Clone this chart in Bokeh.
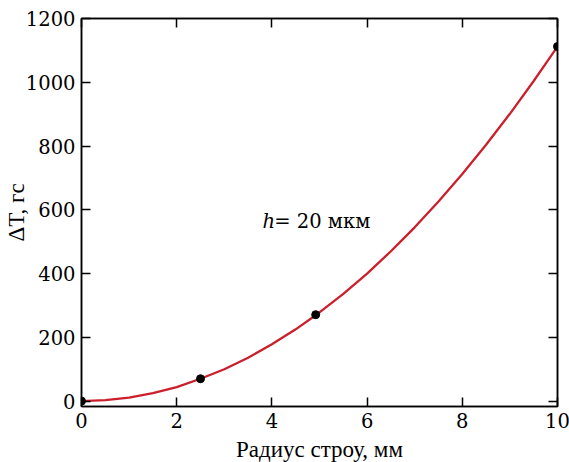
import math
from bokeh.plotting import figure
from bokeh.models import Range1d, LinearAxis, Label, CustomJSTickFormatter, FixedTicker
from bokeh.embed import file_html
from bokeh.resources import INLINE

# Curve (radius, mm -> delta T)
curve_x = [0, 0.5, 1, 1.5, 2, 2.5, 3, 3.5, 4, 4.5, 5, 5.5, 6, 6.5, 7, 7.5, 8, 8.5, 9, 9.5, 10]
curve_y = [0, 3, 11, 25, 44, 70, 100, 136, 178, 225, 278, 336, 400, 470, 545, 626, 712, 804, 901, 1004, 1112]

# Marked points
pts_x = [0, 2.5, 4.92, 10]
pts_y = [0, 70, 271, 1112]

x_ticks = [0, 2, 4, 6, 8, 10]
y_ticks = [0, 200, 400, 600, 800, 1000, 1200]

x_title = "Радиус строу, мм"
y_title = "ΔT, гс"
annot_var = "h"
annot_rest = "= 20 мкм"

FONT = "Liberation Serif, Times New Roman, DejaVu Serif, serif"
FONT2 = "DejaVu Serif"
FS = "23px"
FS2 = "19.5px"

p = figure(frame_width=476, frame_height=388,
           x_range=Range1d(0, 10), y_range=Range1d(-17, 1200),
           output_backend="svg", toolbar_location=None,
           min_border_left=80, min_border_right=13,
           min_border_top=18, min_border_bottom=56)
p.xgrid.visible = False
p.ygrid.visible = False
p.outline_line_color = "black"
p.outline_line_width = 1.5
p.background_fill_color = "white"
p.border_fill_color = "white"


def style(ax, ticks, show_labels=True):
    ax.ticker = FixedTicker(ticks=ticks)
    ax.major_tick_in = 9
    ax.major_tick_out = 0
    ax.minor_tick_in = 0
    ax.minor_tick_out = 0
    ax.axis_line_width = 1.5
    ax.axis_line_color = "black"
    ax.major_tick_line_width = 1.5
    ax.major_tick_line_color = "black"
    ax.major_label_text_font = FONT2
    ax.major_label_text_font_size = FS2
    ax.major_label_text_font_style = "normal"
    ax.major_label_text_color = "black"
    ax.major_label_standoff = 6
    ax.axis_label_text_font = FONT
    ax.axis_label_text_font_size = FS
    ax.axis_label_text_font_style = "normal"
    ax.axis_label_text_color = "black"
    if not show_labels:
        ax.formatter = CustomJSTickFormatter(code="return ''")
        ax.major_label_standoff = 0


style(p.xaxis[0], x_ticks)
style(p.yaxis[0], y_ticks)
p.xaxis[0].axis_label = x_title
p.xaxis[0].axis_label_standoff = 6
p.yaxis[0].axis_label = y_title
p.yaxis[0].axis_label_standoff = -6

top_ax = LinearAxis()
style(top_ax, x_ticks, show_labels=False)
p.add_layout(top_ax, "above")
right_ax = LinearAxis()
style(right_ax, y_ticks, show_labels=False)
p.add_layout(right_ax, "right")

p.line(curve_x, curve_y, line_color="#cc1f2c", line_width=2.3)
p.scatter(pts_x, pts_y, size=8, fill_color="black", line_color="black")

# Annotation h = 20 мкм
p.add_layout(Label(x=3.80, y=563, text=annot_var, text_font=FONT2, text_font_size=FS2,
                   text_font_style="italic", text_color="black",
                   text_align="left", text_baseline="alphabetic"))
p.add_layout(Label(x=4.05, y=563, text=annot_rest, text_font=FONT2, text_font_size=FS2,
                   text_font_style="normal", text_color="black", text_align="left",
                   text_baseline="alphabetic"))

open("out.html", "w").write(file_html(p, INLINE))
